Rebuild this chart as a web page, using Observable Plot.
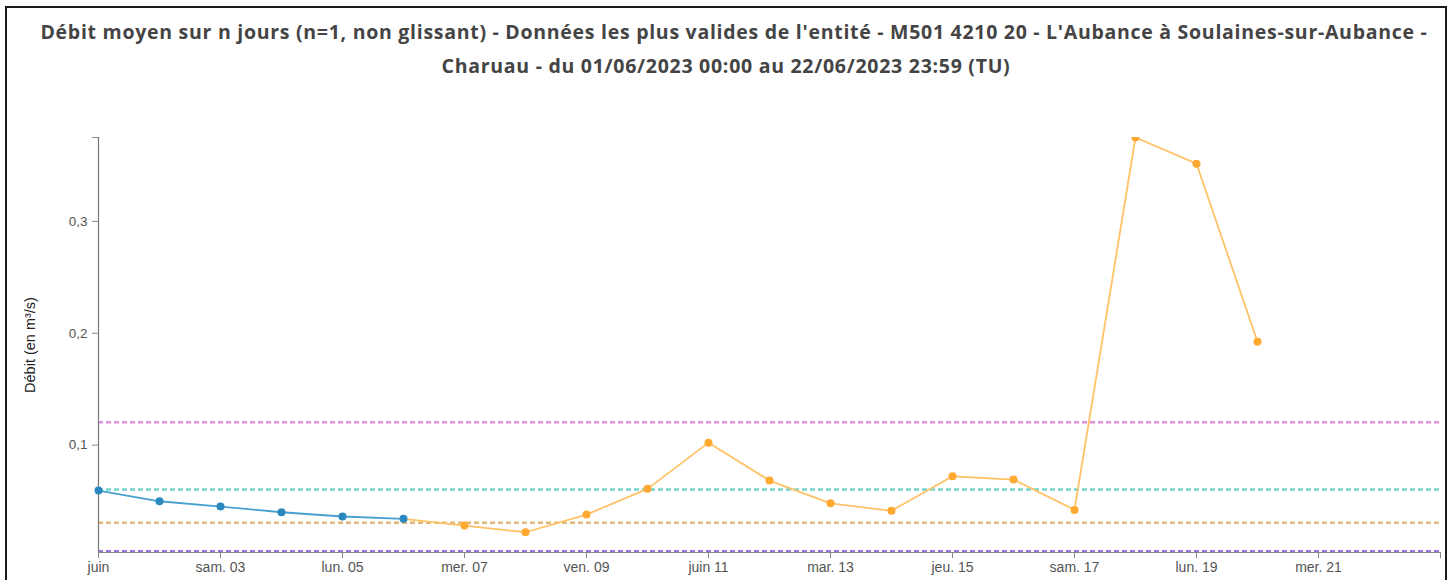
<!DOCTYPE html>
<html><head><meta charset="utf-8">
<script src="https://cdn.jsdelivr.net/npm/d3@7"></script>
<script src="https://cdn.jsdelivr.net/npm/@observablehq/plot@0.6"></script>
<style>
body{margin:0;background:#fff;overflow:hidden;}
#frame{position:absolute;left:5px;top:6px;width:1442px;height:640px;border:2px solid #1a1a1a;box-sizing:border-box;}
#title{position:absolute;left:5px;top:15px;width:1442px;text-align:center;font-family:"Open Sans",sans-serif;font-weight:700;font-size:19.5px;letter-spacing:0.72px;color:#444;line-height:34px;}
#title .l1{position:relative;left:8px;}
#chart{position:absolute;left:0;top:0;}
</style></head><body>
<div id="frame"></div>
<div id="title"><span class="l1">Débit moyen sur n jours (n=1, non glissant) - Données les plus valides de l'entité - M501 4210 20 - L'Aubance à Soulaines-sur-Aubance -</span><br>Charuau - du 01/06/2023 00:00 au 22/06/2023 23:59 (TU)</div>
<div id="chart"></div>
<script>
// ---- data ----
const blueDays = [1, 2, 3, 4, 5, 6];
const blueValues = [0.0594, 0.0498, 0.0451, 0.0400, 0.0362, 0.0341];
const orangeDays = [6, 7, 8, 9, 10, 11, 12, 13, 14, 15, 16, 17, 18, 19, 20];
const orangeValues = [0.0341, 0.0281, 0.0221, 0.0379, 0.0609, 0.1022, 0.0683, 0.0480, 0.0413, 0.0721, 0.0692, 0.0421, 0.375, 0.3516, 0.1924];
const thresholdValues = [0.1204, 0.0603, 0.0305, 0.0052];
const thresholdColors = ["#d77fd2", "#5ccbc2", "#d6ab62", "#8a62d6"];
const xTickDays = [1, 3, 5, 7, 9, 11, 13, 15, 17, 19, 21];
const xTickLabels = ["juin", "sam. 03", "lun. 05", "mer. 07", "ven. 09", "juin 11", "mar. 13", "jeu. 15", "sam. 17", "lun. 19", "mer. 21"];
const yTicks = [0.1, 0.2, 0.3];
const yLabel = "Débit (en m³/s)";
const yDomain = [0.004, 0.375];

const day = d => new Date(Date.UTC(2023, 5, d));
const blue = blueDays.map((d, i) => ({date: day(d), v: blueValues[i]}));
const orange = orangeDays.map((d, i) => ({date: day(d), v: orangeValues[i]}));
const thresholds = thresholdValues.map((v, i) => ({v, c: thresholdColors[i]}));
const xStart = day(1), xEnd = day(23);

const H = 620;
const axisFont = "Liberation Sans, Arial, sans-serif";
const chart = Plot.plot({
  width: 1453, height: H,
  marginLeft: 98, marginRight: 13, marginTop: 137, marginBottom: H - 552,
  style: {fontFamily: axisFont, background: "transparent"},
  x: {type: "utc", domain: [xStart, xEnd]},
  y: {domain: yDomain},
  marks: [
    Plot.ruleY(thresholds, {y: "v", stroke: "c", strokeWidth: 2.5, strokeDasharray: "5,3", strokeOpacity: 0.85}),
    Plot.ruleY([yDomain[0]], {stroke: "#888", strokeWidth: 1.2}),
    Plot.ruleX([xStart], {stroke: "#777", strokeWidth: 1.2}),
    Plot.axisX({ticks: xTickDays.map(day), tickFormat: (d, i) => xTickLabels[i], tickSize: 6, tickPadding: 4, stroke: "#888", fill: "#555", fontSize: 14, label: null}),
    Plot.axisX({ticks: [xEnd], tickFormat: () => "", tickSize: 6, stroke: "#888", label: null}),
    Plot.axisY({ticks: yTicks, tickFormat: d => String(d).replace(".", ","), tickSize: 6, tickPadding: 5, stroke: "#888", fill: "#555", fontSize: 13.5, label: null}),
    Plot.axisY({ticks: [yDomain[1]], tickFormat: () => "", tickSize: 6, stroke: "#888", label: null}),
    Plot.text([yLabel], {frameAnchor: "left", rotate: -90, dx: -68, fontSize: 14.5, fill: "#222", textAnchor: "middle"}),
    Plot.line(orange, {x: "date", y: "v", stroke: "#ffc266", strokeWidth: 1.8, clip: true}),
    Plot.dot(orange.slice(1), {x: "date", y: "v", r: 4, fill: "#ffa930", clip: true}),
    Plot.line(blue, {x: "date", y: "v", stroke: "#4a9fd1", strokeWidth: 1.8}),
    Plot.dot(blue, {x: "date", y: "v", r: 4, fill: "#2a88bf"})
  ]
});
document.getElementById("chart").appendChild(chart);
</script>
</body></html>
